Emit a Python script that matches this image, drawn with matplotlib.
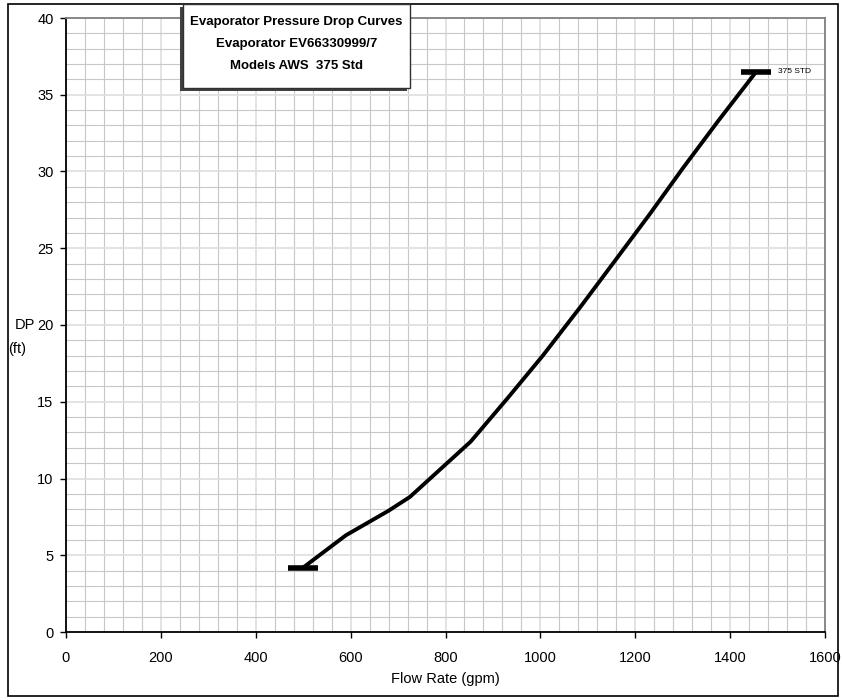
import matplotlib.pyplot as plt
from matplotlib.patches import Rectangle
from matplotlib.ticker import MultipleLocator

# data
flow_gpm = [500, 590, 680, 725, 853, 930, 1005, 1085, 1160, 1230, 1300, 1375, 1455]
dp_ft = [4.2, 6.3, 7.9, 8.8, 12.4, 15.2, 18.0, 21.2, 24.3, 27.2, 30.2, 33.3, 36.5]
curve_label = "375 STD"
title_lines = ["Evaporator Pressure Drop Curves",
               "Evaporator EV66330999/7",
               "Models AWS  375 Std"]

plt.rcParams['font.family'] = ['Liberation Sans', 'DejaVu Sans']

W, H = 842, 700
fig = plt.figure(figsize=(W / 100, H / 100), dpi=100)
ax = fig.add_axes([66 / W, 1 - 632 / H, (825 - 66) / W, (632 - 18) / H])

ax.set_xlim(0, 1600)
ax.set_ylim(0, 40)
ax.xaxis.set_major_locator(MultipleLocator(200))
ax.xaxis.set_minor_locator(MultipleLocator(40))
ax.yaxis.set_major_locator(MultipleLocator(5))
ax.yaxis.set_minor_locator(MultipleLocator(1))

ax.grid(which='minor', color='#c8c8c8', lw=0.8)
ax.grid(which='major', color='#e0e0e0', lw=1.3)
ax.set_axisbelow(True)

ax.tick_params(which='minor', length=0)
ax.tick_params(axis='x', which='major', direction='out', length=4, width=1, pad=10, labelsize=10.5)
ax.tick_params(axis='y', which='major', direction='out', length=4, width=1, pad=5, labelsize=10.5)

for side in ['left', 'bottom']:
    ax.spines[side].set_color('black')
    ax.spines[side].set_linewidth(1.3)
for side in ['top', 'right']:
    ax.spines[side].set_color('#808080')
    ax.spines[side].set_linewidth(1.3)

ax.plot(flow_gpm, dp_ft, color='black', lw=2.8, solid_capstyle='butt', zorder=3)
ax.plot([flow_gpm[0], flow_gpm[-1]], [dp_ft[0], dp_ft[-1]], ls='none',
        marker='_', ms=22, mew=4, color='black', zorder=4)
ax.annotate(curve_label, (flow_gpm[-1], dp_ft[-1]), xytext=(16, 0),
            textcoords='offset points', va='center', ha='left', fontsize=6)

ax.set_xlabel('Flow Rate (gpm)', fontsize=10.5, labelpad=5)

# axis title sits at the 20 ft level, left of the tick labels
fig.text(15 / W, 1 - 325 / H, 'DP', fontsize=10.5, va='center', ha='left')
fig.text(8 / W, 1 - 349 / H, '(ft)', fontsize=10.5, va='center', ha='left')

# outer border
fig.patches.append(Rectangle((8 / W, 4 / H), (838 - 8) / W, (696 - 4) / H,
                             transform=fig.transFigure, fill=False,
                             edgecolor='black', lw=1.2, zorder=0))

# title box with shadow
bx0, bx1, by0, by1 = 183, 410, 4, 88
fig.patches.append(Rectangle(((bx0 - 3) / W, 1 - (by1 + 3) / H), (bx1 - bx0) / W, (by1 - by0) / H,
                             transform=fig.transFigure, facecolor='#404040',
                             edgecolor='none', zorder=5))
fig.patches.append(Rectangle((bx0 / W, 1 - by1 / H), (bx1 - bx0) / W, (by1 - by0) / H,
                             transform=fig.transFigure, facecolor='white',
                             edgecolor='#303030', lw=1, zorder=6))
for i, line in enumerate(title_lines):
    fig.text((bx0 + bx1) / 2 / W, 1 - (22 + 22 * i) / H, line, fontsize=9.5,
             fontweight='bold', ha='center', va='center', zorder=7)

fig.savefig('out.png', dpi=100)
